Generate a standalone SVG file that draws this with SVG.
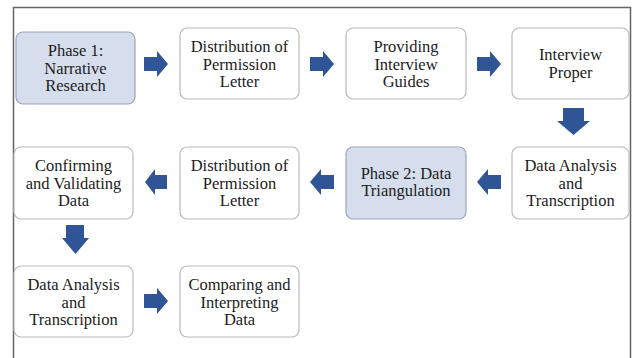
<svg xmlns="http://www.w3.org/2000/svg" width="632" height="358" viewBox="0 0 632 358">
<style>
.box{fill:#ffffff;stroke:#b9b9b9;stroke-width:1.2}
.phase{fill:#d6deee;stroke:#9ba6b8;stroke-width:1.2}
.t{font-family:'Liberation Serif',Tinos,'Nimbus Roman','Nimbus Roman No9 L',Times,'Times New Roman',FreeSerif,'Noto Serif','DejaVu Serif',serif;font-size:16.5px;fill:#1c1c1c;text-anchor:middle}
.arrow{fill:#2f5597}
.frame{fill:none;stroke:#666;stroke-width:1.5}
</style>
<rect width="632" height="358" fill="#ffffff"/>
<path class="frame" d="M13.5,358 V7.5 H630.5 V358"/>

<g id="n1"><rect class="phase" x="16" y="32" width="119" height="72" rx="7"/>
<text class="t" x="75.5" y="56">Phase 1:</text><text class="t" x="75.5" y="73.5">Narrative</text><text class="t" x="75.5" y="91">Research</text></g>

<g id="n2"><rect class="box" x="180" y="28" width="119" height="71" rx="7"/>
<text class="t" x="239.5" y="52">Distribution of</text><text class="t" x="239.5" y="69.5">Permission</text><text class="t" x="239.5" y="87">Letter</text></g>

<g id="n3"><rect class="box" x="346" y="28" width="120" height="71" rx="7"/>
<text class="t" x="406" y="52">Providing</text><text class="t" x="406" y="69.5">Interview</text><text class="t" x="406" y="87">Guides</text></g>

<g id="n4"><rect class="box" x="512" y="28" width="117" height="71" rx="7"/>
<text class="t" x="570.5" y="60">Interview</text><text class="t" x="570.5" y="77.5">Proper</text></g>

<g id="n5"><rect class="box" x="512" y="147" width="117" height="72" rx="7"/>
<text class="t" x="570.5" y="171">Data Analysis</text><text class="t" x="570.5" y="188.5">and</text><text class="t" x="570.5" y="206">Transcription</text></g>

<g id="n6"><rect class="phase" x="346" y="147" width="120" height="72" rx="7"/>
<text class="t" x="406" y="178.5">Phase 2: Data</text><text class="t" x="406" y="196">Triangulation</text></g>

<g id="n7"><rect class="box" x="180" y="147" width="119" height="72" rx="7"/>
<text class="t" x="239.5" y="171">Distribution of</text><text class="t" x="239.5" y="188.5">Permission</text><text class="t" x="239.5" y="206">Letter</text></g>

<g id="n8"><rect class="box" x="14" y="147" width="119" height="72" rx="7"/>
<text class="t" x="73.5" y="171">Confirming</text><text class="t" x="73.5" y="188.5">and Validating</text><text class="t" x="73.5" y="206">Data</text></g>

<g id="n9"><rect class="box" x="14" y="266" width="119" height="71" rx="7"/>
<text class="t" x="73.5" y="290">Data Analysis</text><text class="t" x="73.5" y="307.5">and</text><text class="t" x="73.5" y="325">Transcription</text></g>

<g id="n10"><rect class="box" x="180" y="266" width="119" height="71" rx="7"/>
<text class="t" x="239.5" y="290">Comparing and</text><text class="t" x="239.5" y="307.5">Interpreting</text><text class="t" x="239.5" y="325">Data</text></g>

<g id="connectors">
<polygon class="arrow" points="144,57 157,57 157,51 168,64 157,77 157,71 144,71"/>
<polygon class="arrow" points="310,57 323,57 323,51 334,64 323,77 323,71 310,71"/>
<polygon class="arrow" points="477,57 490,57 490,51 501,64 490,77 490,71 477,71"/>
<polygon class="arrow" points="563,108 584,108 584,121 590,121 573.5,135 557,121 563,121"/>
<polygon class="arrow" points="501,175 488,175 488,169 477,182 488,195 488,189 501,189"/>
<polygon class="arrow" points="334,175 321,175 321,169 310,182 321,195 321,189 334,189"/>
<polygon class="arrow" points="167,175 155,175 155,169 145,182 155,195 155,189 167,189"/>
<polygon class="arrow" points="66,225 84,225 84,238 89,238 75.5,254 62,238 66,238"/>
<polygon class="arrow" points="144,294 157,294 157,288 168,301 157,314 157,308 144,308"/>
</g>
</svg>
